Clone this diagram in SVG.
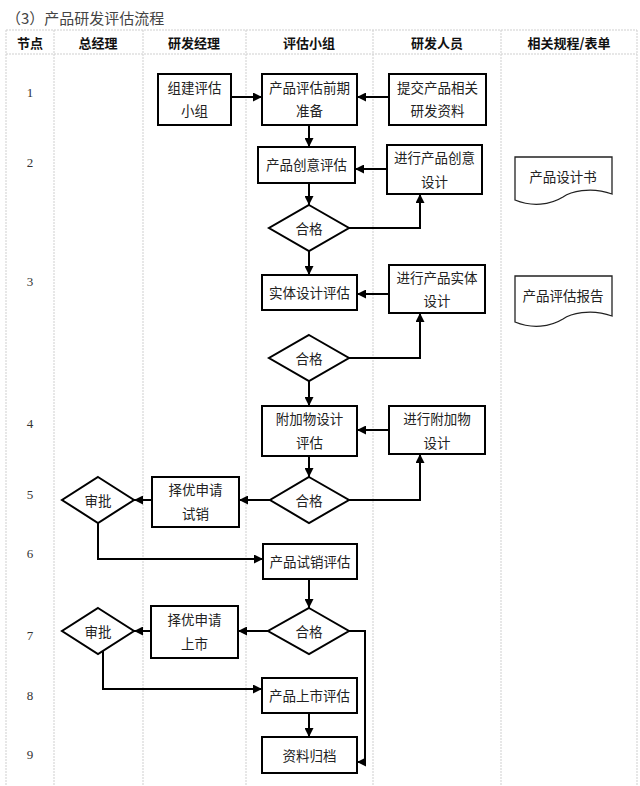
<svg xmlns="http://www.w3.org/2000/svg" width="640" height="786" viewBox="0 0 640 786">
<style>
.grid{stroke:#cfcfcf;stroke-width:1;stroke-dasharray:2,1;fill:none}
.box{fill:#fff;stroke:#000;stroke-width:2}
.t{font-family:"Noto Sans CJK SC","Microsoft YaHei",sans-serif;font-size:13.5px;fill:#222;text-anchor:middle;dominant-baseline:central}
.h{font-family:"Noto Sans CJK SC",sans-serif;font-size:13px;font-weight:bold;fill:#111;text-anchor:middle;dominant-baseline:central}
.n{font-family:"Liberation Serif",serif;font-size:13px;fill:#333;text-anchor:middle;dominant-baseline:central}
.c{fill:none;stroke:#000;stroke-width:2;marker-end:url(#ah)}
</style>
<defs>
<marker id="ah" viewBox="0 0 10 10" refX="10" refY="5" markerWidth="9" markerHeight="9" markerUnits="userSpaceOnUse" orient="auto">
<path d="M0,0 L10,5 L0,10 z" fill="#000"/>
</marker>
</defs>
<rect width="640" height="786" fill="#fff"/>
<text x="6" y="17" font-family="Noto Sans CJK SC,sans-serif" font-size="15" fill="#444" dominant-baseline="central">（3）产品研发评估流程</text>
<g id="table">
<path class="grid" d="M6,30 H637 M6,54 H637 M6,30 V786 M54,30 V786 M143,30 V786 M246,30 V786 M373,30 V786 M501,30 V786 M637,30 V786"/>
<text class="h" x="30" y="42">节点</text>
<text class="h" x="98" y="42">总经理</text>
<text class="h" x="194" y="42">研发经理</text>
<text class="h" x="309" y="42">评估小组</text>
<text class="h" x="437" y="42">研发人员</text>
<text class="h" x="569" y="42">相关规程/表单</text>
<text class="n" x="30" y="92">1</text>
<text class="n" x="30" y="162">2</text>
<text class="n" x="30" y="281">3</text>
<text class="n" x="30" y="423">4</text>
<text class="n" x="30" y="494">5</text>
<text class="n" x="30" y="553">6</text>
<text class="n" x="30" y="635">7</text>
<text class="n" x="30" y="695">8</text>
<text class="n" x="30" y="754">9</text>
</g>
<g id="connectors">
<path class="c" d="M231,97 H262"/>
<path class="c" d="M389,97 H357"/>
<path class="c" d="M309,125 V147"/>
<path class="c" d="M387,169 H355"/>
<path class="c" d="M309,183 V205"/>
<path class="c" d="M349,228 H420 V194"/>
<path class="c" d="M309,251 V275"/>
<path class="c" d="M389,294 H357"/>
<path class="c" d="M349,358 H420 V313"/>
<path class="c" d="M309,381 V406"/>
<path class="c" d="M389,430 H357"/>
<path class="c" d="M309,456 V477"/>
<path class="c" d="M349,500 H420 V454"/>
<path class="c" d="M270,500 H239"/>
<path class="c" d="M152,500 H134"/>
<path class="c" d="M98,523 V559 H263"/>
<path class="c" d="M309,579 V608"/>
<path class="c" d="M268,631 H238"/>
<path class="c" d="M151,631 H134"/>
<path class="c" d="M103,651 V689 H262"/>
<path class="c" d="M309,713 V737"/>
<path class="c" d="M349,631 H365 V762 H357"/>
</g>
<g id="n_zujian"><rect class="box" x="158" y="74" width="73" height="51"/><text class="t" x="194.5" y="87">组建评估</text><text class="t" x="194.5" y="110">小组</text></g>
<g id="n_qianqi"><rect class="box" x="262" y="74" width="95" height="51"/><text class="t" x="309.5" y="87">产品评估前期</text><text class="t" x="309.5" y="110">准备</text></g>
<g id="n_tijiao"><rect class="box" x="389" y="74" width="97" height="51"/><text class="t" x="437.5" y="87">提交产品相关</text><text class="t" x="437.5" y="110">研发资料</text></g>
<g id="n_chuangyi"><rect class="box" x="258" y="147" width="97" height="36"/><text class="t" x="306.5" y="164">产品创意评估</text></g>
<g id="n_chuangyisj"><rect class="box" x="387" y="145" width="95" height="49"/><text class="t" x="434.5" y="157">进行产品创意</text><text class="t" x="434.5" y="181">设计</text></g>
<g id="d_hege1"><polygon class="box" points="309,205 349,228 309,251 269,228"/><text class="t" x="309" y="228">合格</text></g>
<g id="n_shiti"><rect class="box" x="262" y="275" width="95" height="35"/><text class="t" x="309.5" y="292">实体设计评估</text></g>
<g id="n_shitisj"><rect class="box" x="389" y="265" width="96" height="48"/><text class="t" x="437" y="277">进行产品实体</text><text class="t" x="437" y="300">设计</text></g>
<g id="d_hege2"><polygon class="box" points="309,335 349,358 309,381 269,358"/><text class="t" x="309" y="358">合格</text></g>
<g id="n_fujia"><rect class="box" x="262" y="406" width="95" height="50"/><text class="t" x="309.5" y="418">附加物设计</text><text class="t" x="309.5" y="442">评估</text></g>
<g id="n_fujiasj"><rect class="box" x="389" y="406" width="96" height="48"/><text class="t" x="437" y="418">进行附加物</text><text class="t" x="437" y="442">设计</text></g>
<g id="d_hege3"><polygon class="box" points="309,477 349,500 309,523 270,500"/><text class="t" x="309" y="500">合格</text></g>
<g id="n_shixiao"><rect class="box" x="152" y="477" width="87" height="50"/><text class="t" x="195.5" y="489">择优申请</text><text class="t" x="195.5" y="513">试销</text></g>
<g id="d_shenpi1"><polygon class="box" points="98,477 134,500 98,523 62,500"/><text class="t" x="98" y="500">审批</text></g>
<g id="n_shixiaopg"><rect class="box" x="263" y="544" width="94" height="35"/><text class="t" x="310" y="561">产品试销评估</text></g>
<g id="d_hege4"><polygon class="box" points="309,608 349,631 309,654 268,631"/><text class="t" x="309" y="631">合格</text></g>
<g id="n_shangshi"><rect class="box" x="151" y="606" width="87" height="52"/><text class="t" x="194.5" y="619">择优申请</text><text class="t" x="194.5" y="643">上市</text></g>
<g id="d_shenpi2"><polygon class="box" points="98,608 134,631 98,654 62,631"/><text class="t" x="98" y="631">审批</text></g>
<g id="n_shangshipg"><rect class="box" x="262" y="678" width="95" height="35"/><text class="t" x="309.5" y="695">产品上市评估</text></g>
<g id="n_guidang"><rect class="box" x="262" y="737" width="95" height="36"/><text class="t" x="309.5" y="755">资料归档</text></g>
<g id="doc_sheji"><path d="M515,157 H612 V194 C590,186 570,192 563,197 C550,205 532,207 515,200 Z" fill="#fff" stroke="#222" stroke-width="1.3"/><text class="t" x="563" y="176">产品设计书</text></g>
<g id="doc_baogao"><path d="M515,276 H612 V316 C590,308 570,314 563,319 C550,327 532,329 515,322 Z" fill="#fff" stroke="#222" stroke-width="1.3"/><text class="t" x="563" y="295">产品评估报告</text></g>
</svg>
